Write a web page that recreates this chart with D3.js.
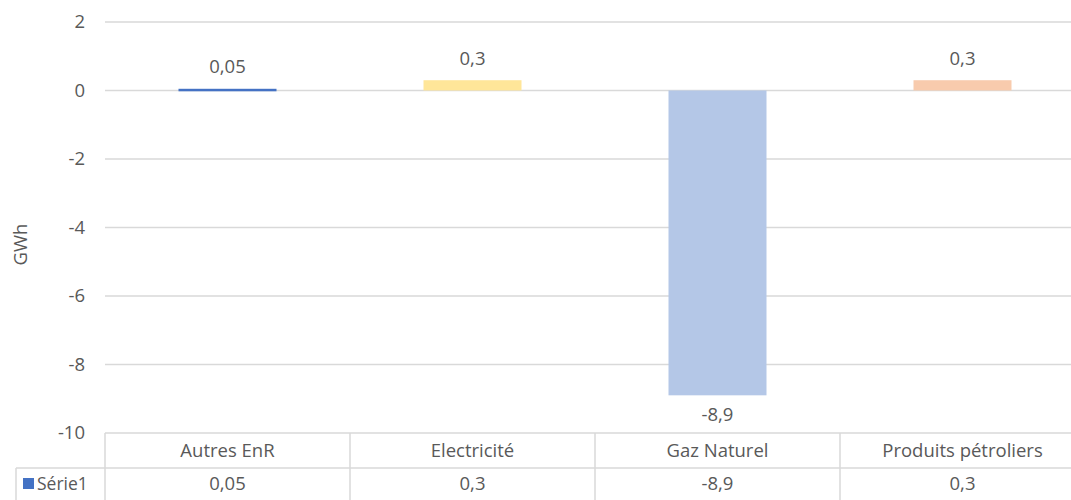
<!DOCTYPE html>
<html><head><meta charset="utf-8">
<script src="https://cdn.jsdelivr.net/npm/d3@7"></script>
<style>body{margin:0;background:#fff}svg{display:block}text{font-family:"Open Sans","Noto Sans",sans-serif;fill:#595959}</style>
</head><body><svg id="c" width="1071" height="500"></svg>
<script>
const categories = ["Autres EnR", "Electricité", "Gaz Naturel", "Produits pétroliers"];
const values = [0.05, 0.3, -8.9, 0.3];
const labels = ["0,05", "0,3", "-8,9", "0,3"];
const barColors = ["#4472C4", "#FFE699", "#B4C7E7", "#F8CBAD"];
const yTicks = [2, 0, -2, -4, -6, -8, -10];
const seriesName = "Série1";
const yTitle = "GWh";

const FS = 18.5;
const svg = d3.select("#c");
const x = d3.scaleBand().domain(categories).range([105, 1085]).paddingInner(0.6).paddingOuter(0.3);
const xb = d3.scaleBand().domain(categories).range([105, 1085]);
const y = d3.scaleLinear().domain([-10, 2]).range([433, 22]);
const grid = "#d9d9d9";

// gridlines
svg.append("g").selectAll("line").data(yTicks.filter(d => d !== -10)).join("line")
  .attr("x1", 105).attr("x2", 1085).attr("y1", d => y(d)).attr("y2", d => y(d))
  .attr("stroke", grid).attr("stroke-width", 1.5);

// y tick labels
svg.append("g").selectAll("text").data(yTicks).join("text")
  .attr("x", 85).attr("y", d => y(d)).attr("dy", "0.35em").attr("text-anchor", "end")
  .attr("font-size", FS).text(d => d);

svg.append("text").attr("transform", `translate(27,${y(-4.5)}) rotate(-90)`)
  .attr("text-anchor", "middle").attr("font-size", FS).text(yTitle);

// bars
svg.append("g").selectAll("rect").data(values).join("rect")
  .attr("x", (d, i) => x(categories[i])).attr("width", x.bandwidth())
  .attr("y", d => y(Math.max(0, d))).attr("height", d => Math.max(2.5, Math.abs(y(d) - y(0))))
  .attr("fill", (d, i) => barColors[i]);

// data labels
svg.append("g").selectAll("text").data(values).join("text")
  .attr("x", (d, i) => x(categories[i]) + x.bandwidth() / 2)
  .attr("y", d => d >= 0 ? y(d) - 22 : y(d) + 19)
  .attr("text-anchor", "middle").attr("dy", "0.35em")
  .attr("font-size", FS).text((d, i) => labels[i]);

// data table
const t = svg.append("g");
const r0 = 433, r1 = 468, r2 = 503;
t.append("line").attr("x1", 105).attr("x2", 1085).attr("y1", r0).attr("y2", r0).attr("stroke", grid).attr("stroke-width", 1.5);
t.append("line").attr("x1", 16).attr("x2", 1085).attr("y1", r1).attr("y2", r1).attr("stroke", grid).attr("stroke-width", 1.5);
t.append("line").attr("x1", 16).attr("x2", 16).attr("y1", r1).attr("y2", r2).attr("stroke", grid).attr("stroke-width", 1.5);
t.selectAll("line.v").data(categories.concat(["end"])).join("line").attr("class", "v")
  .attr("x1", (d, i) => i < 4 ? xb(d) : 1085).attr("x2", (d, i) => i < 4 ? xb(d) : 1085)
  .attr("y1", r0).attr("y2", r2).attr("stroke", grid).attr("stroke-width", 1.5);
t.selectAll("text.cat").data(categories).join("text").attr("class", "cat")
  .attr("x", d => xb(d) + xb.bandwidth() / 2).attr("y", (r0 + r1) / 2).attr("dy", "0.35em")
  .attr("text-anchor", "middle").attr("font-size", FS).text(d => d);
t.selectAll("text.val").data(labels).join("text").attr("class", "val")
  .attr("x", (d, i) => xb(categories[i]) + xb.bandwidth() / 2).attr("y", (r1 + r2) / 2 - 2).attr("dy", "0.35em")
  .attr("text-anchor", "middle").attr("font-size", FS).text(d => d);
t.append("rect").attr("x", 23).attr("y", 478).attr("width", 11).attr("height", 11).attr("fill", barColors[0]);
t.append("text").attr("x", 37).attr("y", (r1 + r2) / 2 - 2).attr("dy", "0.35em").attr("font-size", FS - 1).text(seriesName);
</script></body></html>
